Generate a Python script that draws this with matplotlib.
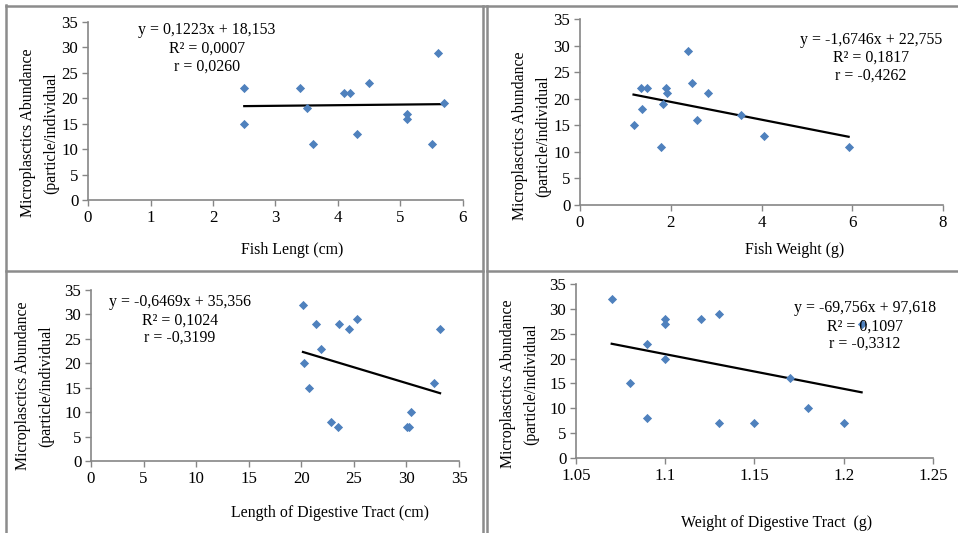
import matplotlib
matplotlib.use("Agg")
import matplotlib.pyplot as plt
from matplotlib.lines import Line2D
import numpy as np

plt.rcParams['font.family'] = ['Liberation Serif', 'DejaVu Serif']

# ---- data ----
fish_length = [2.5, 2.5, 3.4, 3.5, 3.6, 4.1, 4.2, 4.3, 4.5, 5.1, 5.1, 5.5, 5.6, 5.7]
abund_length = [22, 15, 22, 18, 11, 21, 21, 13, 23, 17, 16, 11, 29, 19]

fish_weight = [1.18, 1.35, 1.37, 1.47, 1.79, 1.83, 1.89, 1.92, 2.39, 2.47, 2.58, 2.82, 3.54, 4.05, 5.92]
abund_weight = [15, 22, 18, 22, 11, 19, 22, 21, 29, 23, 16, 21, 17, 13, 11]

tract_length = [20.16, 20.25, 20.7, 21.4, 21.9, 22.8, 23.5, 23.6, 24.5, 25.3, 30.06, 30.2, 30.4, 32.66, 33.2]
abund_tract_length = [32, 20, 15, 28, 23, 8, 7, 28, 27, 29, 7, 7, 10, 16, 27]

tract_weight = [1.07, 1.08, 1.09, 1.09, 1.10, 1.10, 1.10, 1.12, 1.13, 1.13, 1.15, 1.17, 1.18, 1.20, 1.21]
abund_tract_weight = [32, 15, 23, 8, 28, 27, 20, 28, 29, 7, 7, 16, 10, 7, 27]

slopes = [0.1223, -1.6746, -0.6469, -69.756]
intercepts = [18.153, 22.755, 35.356, 97.618]
eq_texts = [
    ["y = 0,1223x + 18,153", "R² = 0,0007", "r = 0,0260"],
    ["y = -1,6746x + 22,755", "R² = 0,1817", "r = -0,4262"],
    ["y = -0,6469x + 35,356", "R² = 0,1024", "r = -0,3199"],
    ["y = -69,756x + 97,618", "R² = 0,1097", "r = -0,3312"],
]
x_labels = ["Fish Lengt (cm)", "Fish Weight (g)", "Length of Digestive Tract (cm)", "Weight of Digestive Tract  (g)"]
y_label = "Microplasctics Abundance\n(particle/individual"
y_ticks = [0, 5, 10, 15, 20, 25, 30, 35]
x_ticks = [
    [0, 1, 2, 3, 4, 5, 6],
    [0, 2, 4, 6, 8],
    [0, 5, 10, 15, 20, 25, 30, 35],
    [1.05, 1.10, 1.15, 1.20, 1.25],
]
x_tick_labels = [
    ["0", "1", "2", "3", "4", "5", "6"],
    ["0", "2", "4", "6", "8"],
    ["0", "5", "10", "15", "20", "25", "30", "35"],
    ["1.05", "1.1", "1.15", "1.2", "1.25"],
]
xs = [fish_length, fish_weight, tract_length, tract_weight]
ys = [abund_length, abund_weight, abund_tract_length, abund_tract_weight]

W, H = 958, 533
fig = plt.figure(figsize=(W / 100, H / 100), dpi=100)

def fx(px):
    return px / W

def fy(py):
    return 1 - py / H

# axes boxes in pixels: left, right, top, bottom
boxes = [(88, 463, 22, 200), (580, 943, 19, 205), (91, 459, 290, 461), (576, 933, 284, 458)]
eq_pos = [(207, [30, 49, 67]), (871, [40, 58, 76]), (180, [302, 321, 338]), (865, [308, 327, 344])]
xlab_pos = [(292, 250), (795, 250), (330, 513), (777, 523)]
ylab_pos = [(40, 133), (532, 136), (35, 386), (520, 384)]

FS = 11.4
blue = '#4F81BD'
gray = '#868686'

for i in range(4):
    l, r, t, b = boxes[i]
    ax = fig.add_axes([fx(l), fy(b), fx(r - l), (b - t) / H])
    ax.scatter(xs[i], ys[i], marker='D', s=22, color=blue, zorder=3, linewidths=0)
    xv = np.array([min(xs[i]), max(xs[i])])
    ax.plot(xv, slopes[i] * xv + intercepts[i], color='black', lw=1.6, zorder=2)
    ax.set_xlim(x_ticks[i][0], x_ticks[i][-1])
    ax.set_ylim(0, 35)
    ax.set_xticks(x_ticks[i])
    ax.set_xticklabels(x_tick_labels[i])
    ax.set_yticks(y_ticks)
    for s in ['top', 'right']:
        ax.spines[s].set_visible(False)
    for s in ['left', 'bottom']:
        ax.spines[s].set_color(gray)
        ax.spines[s].set_linewidth(1.2)
    ax.tick_params(direction='out', length=4, width=1, color=gray, labelsize=FS + 0.8, pad=3)
    ax.patch.set_alpha(0)
    ex, eys = eq_pos[i]
    for txt, ey in zip(eq_texts[i], eys):
        fig.text(fx(ex), fy(ey), txt, ha='center', va='center', fontsize=FS)
    fig.text(fx(xlab_pos[i][0]), fy(xlab_pos[i][1]), x_labels[i], ha='center', va='center', fontsize=FS)
    fig.text(fx(ylab_pos[i][0]), fy(ylab_pos[i][1]), y_label, ha='center', va='center',
             rotation=90, fontsize=FS, linespacing=1.6, multialignment='center')

# panel frame lines
lc = '#8c8c8c'
lines = [
    ((6, 6), (5, 533)),
    ((6, 958), (6, 6)),
    ((483, 483), (6, 533)),
    ((487, 487), (6, 533)),
    ((6, 483), (271, 271)),
    ((487, 958), (271, 271)),
]
for (x0, x1), (y0, y1) in lines:
    fig.add_artist(Line2D([fx(x0), fx(x1)], [fy(y0), fy(y1)], color=lc, lw=1.8, transform=fig.transFigure))

fig.savefig('out.png', dpi=100)
